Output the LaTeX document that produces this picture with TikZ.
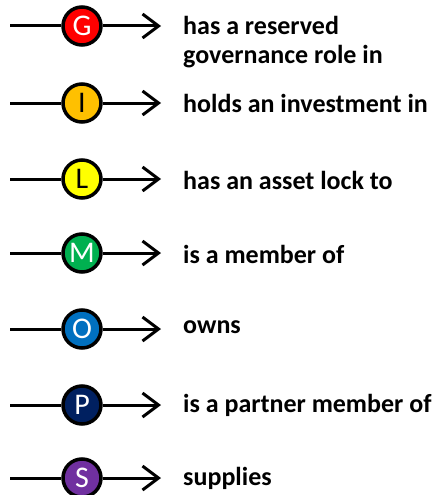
\documentclass[tikz,border=0pt]{standalone}
\usepackage{fontspec}
\setmainfont{Carlito}
\usetikzlibrary{arrows.meta}
\definecolor{cG}{HTML}{FF0000}
\definecolor{cI}{HTML}{FFC000}
\definecolor{cL}{HTML}{FFFF00}
\definecolor{cM}{HTML}{00B050}
\definecolor{cO}{HTML}{0070C0}
\definecolor{cP}{HTML}{002060}
\definecolor{cS}{HTML}{7030A0}
\tikzset{
  relcirc/.style={circle, draw=black, line width=3.5pt, minimum size=38pt, inner sep=0pt,
    font=\fontsize{30}{30}\selectfont},
  relline/.style={line width=3pt},
  relarrow/.style={line width=3pt, -{Straight Barb[length=16pt,width=24pt]}},
  reltext/.style={anchor=west, inner sep=0pt, align=left, font=\fontsize{26}{29}\bfseries\selectfont}
}
\begin{document}
\begin{tikzpicture}[x=1pt,y=-1pt]
\useasboundingbox (0,0) rectangle (438,495);
\foreach \n/\y/\c/\t in {G/26/cG/white, I/103/cI/black, L/179/cL/black, M/253/cM/white, O/329/cO/white, P/405/cP/white, S/478/cS/white}{
  \coordinate (s\n) at (10,\y);
  \coordinate (e\n) at (161,\y);
  \node[relcirc, fill=\c, text=\t] (c\n) at (82,\y) {\n};
  \draw[relline] (s\n) -- (c\n.west);
  \draw[relarrow] (c\n.east) -- (e\n);
}
\node[reltext] (tG) at (183,42) {has a reserved\\governance role in};
\node[reltext] (tI) at (183,103) {holds an investment in};
\node[reltext] (tL) at (183,180) {has an asset lock to};
\node[reltext] (tM) at (183,254) {is a member of};
\node[reltext] (tO) at (183,327) {owns};
\node[reltext] (tP) at (183,405) {is a partner member of};
\node[reltext] (tS) at (183,478) {supplies};
\end{tikzpicture}
\end{document}
